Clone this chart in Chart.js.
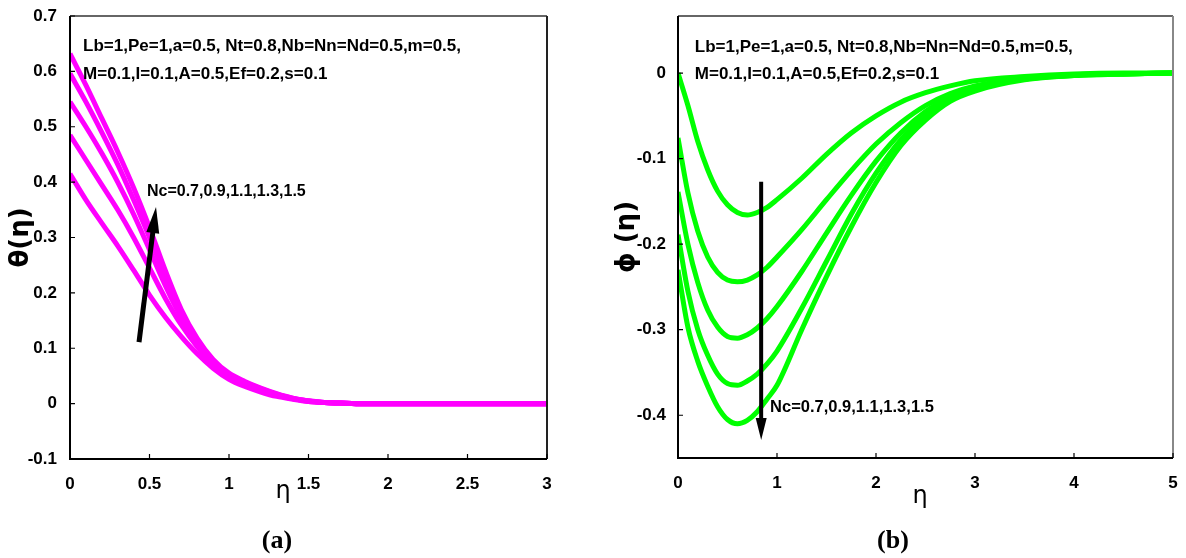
<!DOCTYPE html>
<html lang="en">
<head>
<meta charset="UTF-8">
<title>θ(η) and ϕ(η) for several Nc</title>
<script src="https://cdn.jsdelivr.net/npm/chart.js"></script>
<style>
    body {
        margin: 0;
        background: #fff;
        width: 1186px;
        height: 558px;
        position: relative;
        overflow: hidden;
        font-family: 'Liberation Sans', Arial, sans-serif;
    }
    .panel {
        position: absolute;
        top: 0;
        height: 558px;
    }
    #panelA { left: 0; width: 590px; }
    #panelB { left: 590px; width: 596px; }
    .tag {
        position: absolute;
        top: 540px;
        transform: translate(-50%, -50%);
        font: bold 26px 'Liberation Serif', 'Times New Roman', serif;
        color: #000;
    }
</style>
</head>
<body>

<div class="panel" id="panelA"><canvas id="chartA"></canvas></div>
<div class="panel" id="panelB"><canvas id="chartB"></canvas></div>
<div class="tag" style="left:277px">(a)</div>
<div class="tag" style="left:893px">(b)</div>

<script>
// ---- data, panel (a): theta(eta) ----
const ncValues = ['0.7', '0.9', '1.1', '1.3', '1.5'];

const etaA = [0, 0.1, 0.2, 0.3, 0.4, 0.5, 0.6, 0.7, 0.8, 0.9, 1.0, 1.1, 1.2, 1.3, 1.4, 1.5, 1.6, 1.7, 1.8, 2.0, 2.5, 3.0];
const thetaNc07 = [0.415, 0.368, 0.326, 0.285, 0.241, 0.196, 0.156, 0.121, 0.090, 0.064, 0.044, 0.031, 0.021, 0.013, 0.008, 0.004, 0.002, 0.001, 0, 0, 0, 0];
const thetaNc09 = [0.485, 0.440, 0.395, 0.350, 0.300, 0.245, 0.190, 0.142, 0.103, 0.071, 0.048, 0.034, 0.024, 0.015, 0.009, 0.004, 0.002, 0.001, 0, 0, 0, 0];
const thetaNc11 = [0.545, 0.500, 0.452, 0.400, 0.342, 0.278, 0.213, 0.155, 0.110, 0.075, 0.051, 0.036, 0.025, 0.016, 0.009, 0.005, 0.002, 0.001, 0, 0, 0, 0];
const thetaNc13 = [0.596, 0.545, 0.490, 0.432, 0.368, 0.300, 0.230, 0.165, 0.115, 0.078, 0.053, 0.038, 0.027, 0.017, 0.010, 0.005, 0.002, 0.001, 0, 0, 0, 0];
const thetaNc15 = [0.632, 0.575, 0.515, 0.455, 0.390, 0.318, 0.240, 0.170, 0.118, 0.080, 0.055, 0.040, 0.028, 0.018, 0.010, 0.005, 0.002, 0.001, 0, 0, 0, 0];

const xTicksA = [0, 0.5, 1, 1.5, 2, 2.5, 3];
const yTicksA = [-0.1, 0, 0.1, 0.2, 0.3, 0.4, 0.5, 0.6, 0.7];

// ---- data, panel (b): phi(eta) ----
const etaB = [0, 0.1, 0.2, 0.3, 0.4, 0.5, 0.6, 0.7, 0.8, 0.9, 1.0, 1.25, 1.5, 1.75, 2.0, 2.25, 2.5, 2.75, 3.0, 3.5, 4.0, 4.5, 5.0];
const phiNc07 = [0, -0.038, -0.080, -0.113, -0.138, -0.154, -0.163, -0.166, -0.163, -0.157, -0.148, -0.123, -0.095, -0.070, -0.050, -0.034, -0.023, -0.015, -0.009, -0.004, -0.001, 0, 0];
const phiNc09 = [-0.076, -0.140, -0.185, -0.215, -0.233, -0.242, -0.244, -0.242, -0.236, -0.227, -0.215, -0.183, -0.148, -0.114, -0.083, -0.058, -0.038, -0.024, -0.015, -0.006, -0.002, -0.001, 0];
const phiNc11 = [-0.139, -0.200, -0.245, -0.277, -0.297, -0.308, -0.310, -0.306, -0.298, -0.287, -0.273, -0.232, -0.187, -0.143, -0.103, -0.070, -0.045, -0.028, -0.017, -0.007, -0.002, -0.001, 0];
const phiNc13 = [-0.189, -0.255, -0.300, -0.330, -0.352, -0.363, -0.365, -0.360, -0.352, -0.340, -0.325, -0.275, -0.220, -0.165, -0.117, -0.078, -0.050, -0.030, -0.019, -0.007, -0.003, -0.001, 0];
const phiNc15 = [-0.230, -0.297, -0.337, -0.366, -0.390, -0.405, -0.410, -0.406, -0.396, -0.381, -0.365, -0.300, -0.238, -0.180, -0.128, -0.085, -0.055, -0.033, -0.021, -0.008, -0.003, -0.001, 0];

const xTicksB = [0, 1, 2, 3, 4, 5];
const yTicksB = [-0.4, -0.3, -0.2, -0.1, 0];

const paramLines = [
    'Lb=1,Pe=1,a=0.5, Nt=0.8,Nb=Nn=Nd=0.5,m=0.5,',
    'M=0.1,I=0.1,A=0.5,Ef=0.2,s=0.1'
];
const ncLabel = 'Nc=' + ncValues.join(',');

const tickFont = { family: "'Liberation Sans', Arial, sans-serif", size: 17, weight: 'bold' };

function toPoints(xs, ys) {
    return xs.map((x, i) => ({ x: x, y: ys[i] }));
}

function series(xs, list, color) {
    return list.map((ys, i) => ({
        label: 'Nc=' + ncValues[i],
        data: toPoints(xs, ys),
        borderColor: color,
        backgroundColor: color,
        borderWidth: 5,
        pointRadius: 0,
        cubicInterpolationMode: 'monotone',
        fill: false
    }));
}

// frame, inward ticks, text notes and arrow
const figNotes = {
    id: 'figNotes',
    afterDatasetsDraw(chart, args, o) {
        const { ctx, chartArea: a, scales: { x, y } } = chart;
        ctx.save();

        // box
        ctx.lineWidth = 1.5;
        ctx.strokeStyle = '#333';
        ctx.beginPath();
        ctx.moveTo(a.left, a.top); ctx.lineTo(a.right, a.top);
        ctx.stroke();
        ctx.strokeStyle = o.rightColor;
        ctx.lineWidth = 2;
        ctx.beginPath();
        ctx.moveTo(a.right, a.top); ctx.lineTo(a.right, a.bottom);
        ctx.stroke();
        ctx.strokeStyle = '#000';
        ctx.lineWidth = 2;
        ctx.beginPath();
        ctx.moveTo(a.left, a.top); ctx.lineTo(a.left, a.bottom); ctx.lineTo(a.right, a.bottom);
        ctx.stroke();

        // ticks pointing inwards
        ctx.lineWidth = 1.2;
        ctx.beginPath();
        x.ticks.forEach(t => {
            const px = x.getPixelForValue(t.value);
            ctx.moveTo(px, a.bottom); ctx.lineTo(px, a.bottom - 5);
        });
        y.ticks.forEach(t => {
            const py = y.getPixelForValue(t.value);
            ctx.moveTo(a.left, py); ctx.lineTo(a.left + 5, py);
        });
        ctx.stroke();

        // parameter text
        ctx.fillStyle = '#000';
        ctx.textAlign = 'left';
        ctx.textBaseline = 'middle';
        ctx.font = "bold 17px 'Liberation Sans', Arial, sans-serif";
        o.params.forEach((p, i) => {
            ctx.fillText(paramLines[i], x.getPixelForValue(p[0]), y.getPixelForValue(p[1]));
        });

        // Nc label
        ctx.font = "bold " + o.ncSize + "px 'Liberation Sans', Arial, sans-serif";
        ctx.fillText(ncLabel, x.getPixelForValue(o.ncAt[0]), y.getPixelForValue(o.ncAt[1]));

        // arrow
        const x0 = x.getPixelForValue(o.arrow[0][0]), y0 = y.getPixelForValue(o.arrow[0][1]);
        const x1 = x.getPixelForValue(o.arrow[1][0]), y1 = y.getPixelForValue(o.arrow[1][1]);
        const ang = Math.atan2(y1 - y0, x1 - x0);
        const hl = o.headLen, hw = o.headWidth;
        const bx = x1 - hl * Math.cos(ang), by = y1 - hl * Math.sin(ang);
        ctx.strokeStyle = '#000';
        ctx.lineWidth = o.arrowWidth;
        ctx.lineCap = 'butt';
        ctx.beginPath();
        ctx.moveTo(x0, y0); ctx.lineTo(bx + 2 * Math.cos(ang), by + 2 * Math.sin(ang));
        ctx.stroke();
        ctx.beginPath();
        ctx.moveTo(x1, y1);
        ctx.lineTo(bx + hw / 2 * Math.sin(ang), by - hw / 2 * Math.cos(ang));
        ctx.lineTo(bx - hw / 2 * Math.sin(ang), by + hw / 2 * Math.cos(ang));
        ctx.closePath();
        ctx.fill();

        // eta label under the axis
        ctx.textAlign = 'center';
        ctx.font = "24px 'DejaVu Sans', sans-serif";
        ctx.fillText('η', a.left + o.etaAt[0], a.bottom + o.etaAt[1]);

        ctx.restore();
    }
};

function makeChart(id, cfg) {
    return new Chart(document.getElementById(id), {
        type: 'line',
        data: { datasets: cfg.datasets },
        options: {
            responsive: true,
            maintainAspectRatio: false,
            animation: false,
            layout: { padding: cfg.padding },
            plugins: {
                legend: { display: false },
                tooltip: { enabled: false },
                figNotes: cfg.notes
            },
            scales: {
                x: {
                    type: 'linear',
                    min: cfg.xRange[0],
                    max: cfg.xRange[1],
                    grid: { display: false },
                    border: { display: false },
                    afterBuildTicks: s => { s.ticks = cfg.xTicks.map(v => ({ value: v })); },
                    afterFit: s => { s.height = cfg.xAxisHeight; },
                    ticks: {
                        color: '#000',
                        font: tickFont,
                        padding: 7,
                        maxRotation: 0,
                        callback: v => String(v)
                    }
                },
                y: {
                    type: 'linear',
                    min: cfg.yRange[0],
                    max: cfg.yRange[1],
                    grid: { display: false },
                    border: { display: false },
                    afterBuildTicks: s => { s.ticks = cfg.yTicks.map(v => ({ value: v })); },
                    afterFit: s => { s.width = cfg.yAxisWidth; },
                    ticks: {
                        color: '#000',
                        font: tickFont,
                        padding: cfg.yTickPad,
                        callback: v => String(Math.round(v * 10) / 10)
                    },
                    title: {
                        display: true,
                        text: cfg.yTitle,
                        color: '#000',
                        font: { family: "'DejaVu Sans', sans-serif", size: 26, weight: 'bold' },
                        padding: { top: cfg.yTitlePad, bottom: 0 }
                    }
                }
            }
        },
        plugins: [figNotes]
    });
}

makeChart('chartA', {
    datasets: series(etaA, [thetaNc07, thetaNc09, thetaNc11, thetaNc13, thetaNc15], '#ff00ff'),
    padding: { top: 16, right: 43, bottom: 0, left: 0 },
    xRange: [0, 3],
    yRange: [-0.1, 0.7],
    xTicks: xTicksA,
    yTicks: yTicksA,
    xAxisHeight: 99,
    yAxisWidth: 70,
    yTickPad: 5,
    yTitle: 'θ(η)',
    yTitlePad: 6,
    notes: {
        rightColor: '#222',
        params: [[0.082, 0.645], [0.082, 0.594]],
        ncSize: 16,
        ncAt: [0.484, 0.382],
        arrow: [[0.434, 0.111], [0.541, 0.355]],
        arrowWidth: 5,
        headLen: 26,
        headWidth: 13,
        etaAt: [213, 33]
    }
});

makeChart('chartB', {
    datasets: series(etaB, [phiNc07, phiNc09, phiNc11, phiNc13, phiNc15], '#00ff00'),
    padding: { top: 16, right: 13, bottom: 0, left: 0 },
    xRange: [0, 5],
    yRange: [-0.45, 0.0667],
    xTicks: xTicksB,
    yTicks: yTicksB,
    xAxisHeight: 100,
    yAxisWidth: 88,
    yTickPad: 4,
    yTitle: 'ϕ (η)',
    yTitlePad: 22,
    notes: {
        rightColor: '#888',
        params: [[0.17, 0.030], [0.17, -0.001]],
        ncSize: 16.5,
        ncAt: [0.93, -0.391],
        arrow: [[0.84, -0.127], [0.84, -0.429]],
        arrowWidth: 4,
        headLen: 22,
        headWidth: 11,
        etaAt: [242, 39]
    }
});
</script>
</body>
</html>
